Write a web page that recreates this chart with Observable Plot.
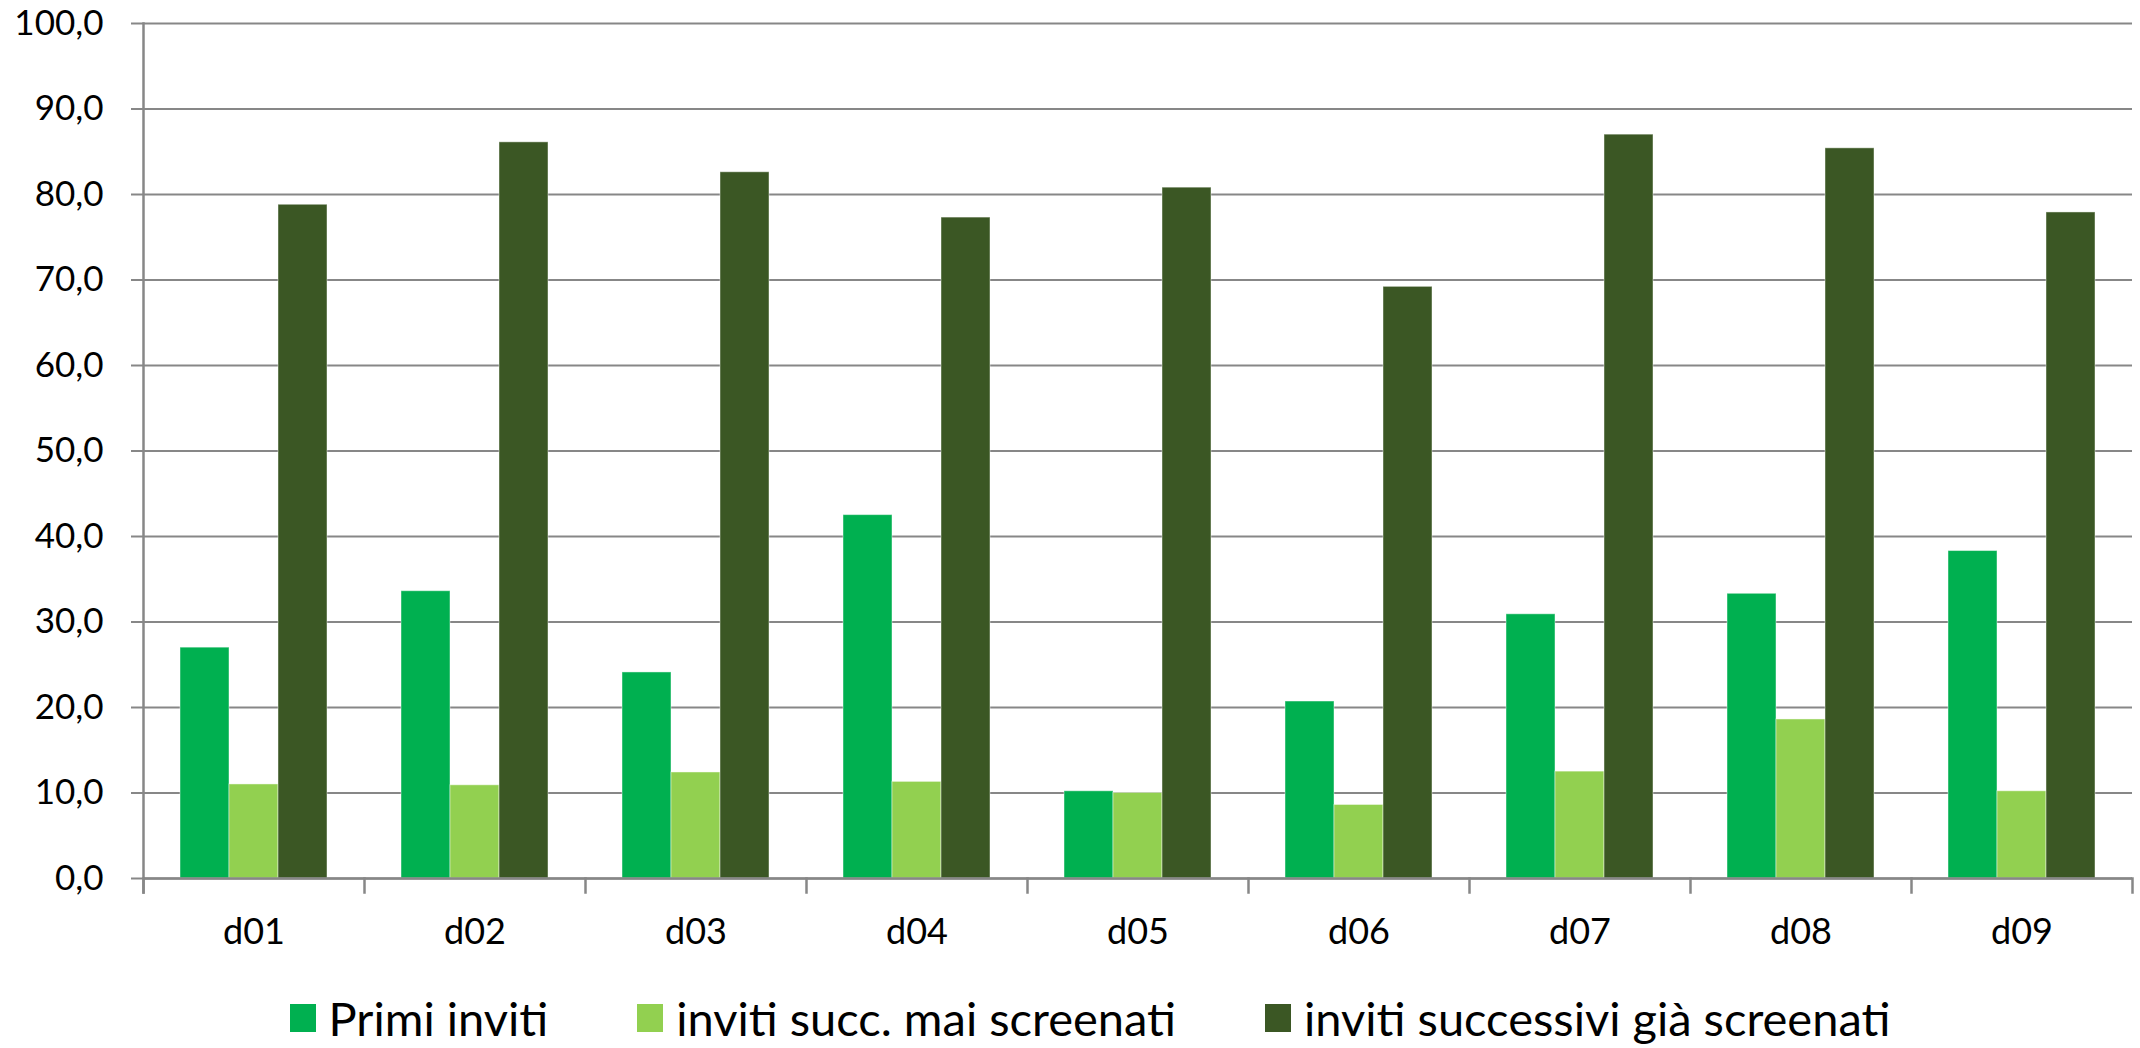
<!DOCTYPE html>
<html>
<head>
<meta charset="utf-8">
<script src="https://cdn.jsdelivr.net/npm/d3@7"></script>
<script src="https://cdn.jsdelivr.net/npm/@observablehq/plot@0.6"></script>
<style>
  html, body { margin: 0; padding: 0; background: #fff; }
  #chart { width: 2140px; }
  #legend { display: flex; justify-content: center; align-items: center; gap: 89px;
            height: 73px; padding-left: 40px; padding-top: 12px; box-sizing: border-box;
            font-family: Lato, "Open Sans", sans-serif; font-size: 47px; color: #000; }
  .item { display: flex; align-items: center; white-space: nowrap; }
  .sw { width: 26px; height: 28px; margin-right: 13px; }
</style>
</head>
<body>
<div id="chart"></div>
<div id="legend"></div>
<script>
const districts = ["d01", "d02", "d03", "d04", "d05", "d06", "d07", "d08", "d09"];
const series = ["Primi inviti", "inviti succ. mai screenati", "inviti successivi già screenati"];
const primiInviti = [27.0, 33.6, 24.1, 42.5, 10.2, 20.7, 30.9, 33.3, 38.3];
const succMaiScreenati = [11.0, 10.9, 12.4, 11.3, 10.0, 8.6, 12.5, 18.6, 10.2];
const succGiaScreenati = [78.8, 86.1, 82.6, 77.3, 80.8, 69.2, 87.0, 85.4, 77.9];
const colors = ["#00b050", "#92d050", "#3b5724"];
const yTicks = [0, 10, 20, 30, 40, 50, 60, 70, 80, 90, 100];

const seriesValues = [primiInviti, succMaiScreenati, succGiaScreenati];
const data = [];
districts.forEach((d, i) => {
  series.forEach((s, j) => data.push({district: d, series: s, value: seriesValues[j][i]}));
});

const W = 2140, H = 975, MT = 23, MB = 97;
const innerH = H - MT - MB;
const gray = "#878787";

const chart = Plot.plot({
  width: W,
  height: H,
  marginLeft: 143,
  marginRight: 8,
  marginTop: MT,
  marginBottom: MB,
  style: {fontFamily: "Lato, 'Open Sans', sans-serif", background: "#fff", color: "#000"},
  fx: {domain: districts, padding: 0, label: null, axis: null},
  x: {domain: series, paddingInner: 0, paddingOuter: 0.755, axis: null},
  y: {domain: [0, 100], label: null},
  color: {domain: series, range: colors},
  marks: [
    Plot.gridY(yTicks, {stroke: gray, strokeOpacity: 1, strokeWidth: 2}),
    Plot.axisY(yTicks, {tickSize: 12, tickPadding: 28, stroke: gray, strokeWidth: 2, strokeOpacity: 1,
      fill: "#000", fontSize: 35, label: null,
      tickFormat: d => d.toFixed(1).replace(".", ",")}),
    Plot.frame({anchor: "left", facetAnchor: "left", insetBottom: -14, stroke: gray, strokeWidth: 2.5}),
    Plot.frame({anchor: "left", insetTop: innerH, insetBottom: -14, stroke: gray, strokeWidth: 2.5}),
    Plot.frame({anchor: "right", facetAnchor: "right", insetTop: innerH, insetBottom: -14, stroke: gray, strokeWidth: 2.5}),
    Plot.barY(data, {fx: "district", x: "series", y: "value", fill: "series",
      stroke: "#ffffff", strokeOpacity: 0.45, strokeWidth: 1}),
    Plot.ruleY([0], {stroke: gray, strokeWidth: 2.5}),
    Plot.axisFx({anchor: "bottom", tickSize: 0, tickPadding: 40, fontSize: 36, fill: "#000", label: null})
  ]
});
document.getElementById("chart").appendChild(chart);

const legend = d3.select("#legend");
series.forEach((s, j) => {
  const it = legend.append("div").attr("class", "item");
  it.append("div").attr("class", "sw").style("background", colors[j]);
  it.append("span").text(s);
});
</script>
</body>
</html>
